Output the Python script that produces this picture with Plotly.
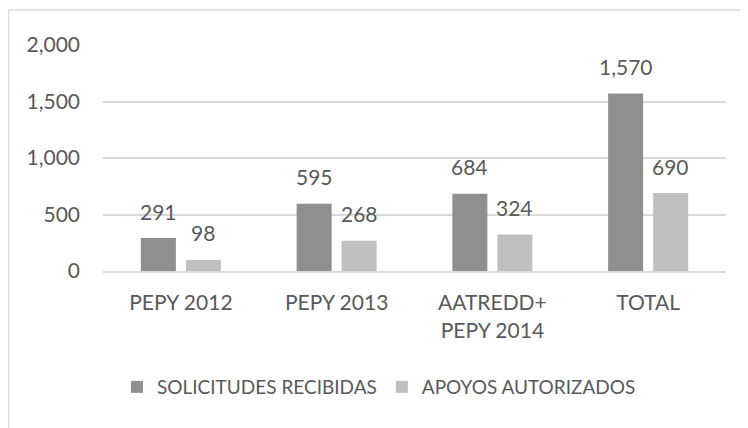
import plotly.graph_objects as go

categories = ["PEPY 2012", "PEPY 2013", "AATREDD+<br>PEPY 2014", "TOTAL"]
solicitudes = [291, 595, 684, 1570]
apoyos = [98, 268, 324, 690]
series_names = ["SOLICITUDES RECIBIDAS", "APOYOS AUTORIZADOS"]
y_ticks = [0, 500, 1000, 1500, 2000]
y_tick_labels = ["0", "500", "1,000", "1,500", "2,000"]

FONT = "Lato"
TXT = "#595959"
colors = ["#8f8f8f", "#bfbfbf"]
FS = 21

fig = go.Figure()
for name, vals, col in zip(series_names, [solicitudes, apoyos], colors):
    fig.add_trace(go.Bar(
        x=categories, y=vals, name=name,
        marker=dict(color=col, line=dict(width=0)),
    ))

# data labels above bars
for k, vals in enumerate([solicitudes, apoyos]):
    for i, (c, v) in enumerate(zip(categories, vals)):
        fig.add_annotation(
            x=c, y=v, text=f"{v:,}", showarrow=False,
            xref="x", yref="y", xshift=(-22.5 if k == 0 else 22.5),
            yanchor="middle", yshift=27,
            font=dict(family=FONT, size=FS, color=TXT),
        )

# page has an 8px body margin: figure is drawn at offset (8, 8)
W, H = 740, 420
L, R, T, B = 95, 22, 37, 157
pw = W - L - R
ph = H - T - B

fig.update_layout(
    width=W, height=H,
    margin=dict(l=L, r=R, t=T, b=B),
    paper_bgcolor="white", plot_bgcolor="white",
    barmode="group", bargap=0.422, bargroupgap=0.222,
    font=dict(family=FONT, size=FS, color=TXT),
    showlegend=True,
    legend=dict(
        orientation="h", x=(371 - L) / pw, xanchor="center",
        y=(H - B - 379) / ph, yanchor="middle",
        font=dict(family=FONT, size=19, color=TXT),
        itemwidth=30, traceorder="normal",
    ),
    xaxis=dict(
        showgrid=False, showline=True, linecolor="#d9d9d9", linewidth=2,
        ticks="", ticklabelstandoff=12,
        tickfont=dict(family=FONT, size=FS, color=TXT),
    ),
    yaxis=dict(
        range=[0, 2000], tickvals=y_ticks, ticktext=y_tick_labels,
        showgrid=True, gridcolor="#d9d9d9", gridwidth=2,
        zeroline=False, showline=False, ticks="",
        ticklabelstandoff=22,
        tickfont=dict(family=FONT, size=FS, color=TXT),
    ),
    shapes=[
        dict(type="line", xref="paper", yref="paper",
             x0=(0.5 - L) / pw, x1=(W - L) / pw,
             y0=(H - B - 2) / ph, y1=(H - B - 2) / ph,
             line=dict(color="#d9d9d9", width=1.5)),
        dict(type="line", xref="paper", yref="paper",
             x0=(0.5 - L) / pw, x1=(0.5 - L) / pw,
             y0=(H - B - 2) / ph, y1=(H - B - H) / ph,
             line=dict(color="#d9d9d9", width=1.5)),
    ],
)

fig.write_html("out.html")
